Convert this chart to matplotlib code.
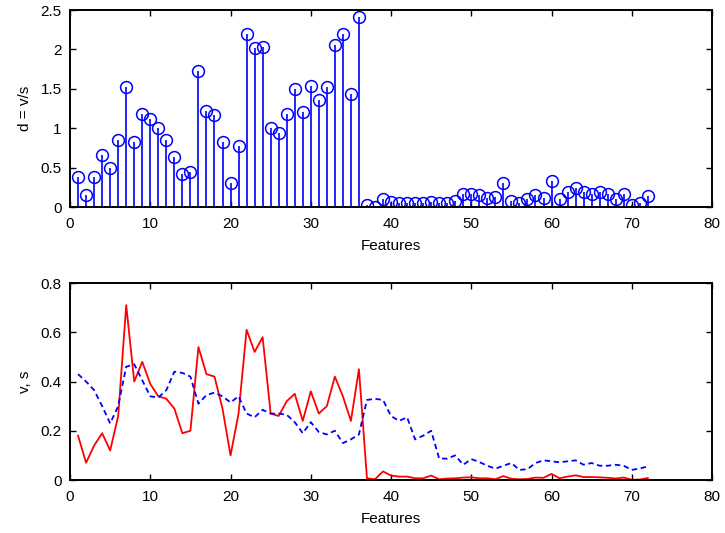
import numpy as np
import matplotlib.pyplot as plt

plt.rcParams['font.family'] = ['Liberation Sans', 'DejaVu Sans']

features = np.arange(1, 73)

# d = v/s
d = [0.38, 0.15, 0.38, 0.66, 0.50, 0.85, 1.52, 0.83, 1.18, 1.12,
     1.00, 0.85, 0.64, 0.42, 0.45, 1.73, 1.22, 1.17, 0.83, 0.30,
     0.78, 2.20, 2.02, 2.03, 1.00, 0.94, 1.18, 1.50, 1.20, 1.53,
     1.36, 1.52, 2.05, 2.19, 1.43, 2.41, 0.02, 0.00, 0.10, 0.06,
     0.05, 0.05, 0.05, 0.05, 0.07, 0.05, 0.05, 0.08, 0.16, 0.17,
     0.15, 0.12, 0.13, 0.30, 0.08, 0.05, 0.10, 0.15, 0.12, 0.33,
     0.10, 0.19, 0.24, 0.19, 0.17, 0.19, 0.16, 0.10, 0.17, 0.03,
     0.05, 0.14]

# v (red solid line)
v = [0.18, 0.07, 0.14, 0.19, 0.12, 0.26, 0.71, 0.40, 0.48, 0.39,
     0.34, 0.33, 0.29, 0.19, 0.20, 0.54, 0.43, 0.42, 0.29, 0.10,
     0.27, 0.61, 0.52, 0.58, 0.27, 0.26, 0.32, 0.35, 0.24, 0.36,
     0.27, 0.30, 0.42, 0.34, 0.24, 0.45, 0.007, 0.003, 0.035, 0.018,
     0.014, 0.014, 0.007, 0.007, 0.018, 0.003, 0.006, 0.007, 0.01, 0.011,
     0.007, 0.007, 0.003, 0.016, 0.005, 0.003, 0.004, 0.01, 0.009, 0.025,
     0.007, 0.014, 0.019, 0.012, 0.012, 0.011, 0.009, 0.006, 0.01, 0.001,
     0.002, 0.008]

# s (blue dashed line)
s = [0.43, 0.40, 0.365, 0.30, 0.23, 0.30, 0.46, 0.47, 0.405, 0.34,
     0.335, 0.365, 0.44, 0.435, 0.42, 0.31, 0.345, 0.355, 0.34, 0.315,
     0.34, 0.27, 0.255, 0.285, 0.27, 0.27, 0.265, 0.235, 0.19, 0.235,
     0.195, 0.185, 0.20, 0.15, 0.165, 0.185, 0.325, 0.33, 0.325, 0.26,
     0.24, 0.255, 0.165, 0.18, 0.20, 0.087, 0.087, 0.10, 0.062, 0.085,
     0.073, 0.058, 0.046, 0.058, 0.069, 0.041, 0.044, 0.069, 0.08, 0.076,
     0.072, 0.076, 0.08, 0.062, 0.069, 0.058, 0.058, 0.062, 0.058, 0.041,
     0.047, 0.055]

fig = plt.figure(figsize=(7.25, 5.33), dpi=100)
ax1 = fig.add_axes([0.0966, 0.6116, 0.8855, 0.3696])
ax2 = fig.add_axes([0.0966, 0.0994, 0.8855, 0.3696])

markerline, stemlines, baseline = ax1.stem(features, d, basefmt='none')
plt.setp(stemlines, color='blue', linewidth=1.2)
plt.setp(markerline, marker='o', markersize=8.5, markerfacecolor='none',
         markeredgecolor='blue', markeredgewidth=1.1)
ax1.set_xlim(0, 80)
ax1.set_ylim(0, 2.5)
ax1.set_yticks([0, 0.5, 1, 1.5, 2, 2.5])
ax1.set_yticklabels(['0', '0.5', '1', '1.5', '2', '2.5'])
ax1.set_xlabel('Features', labelpad=6)
ax1.set_ylabel('d = v/s', labelpad=6)

ax2.plot(features, v, color='red', linewidth=1.3)
ax2.plot(features, s, color='blue', linewidth=1.3, linestyle=(0, (3, 2)))
ax2.set_xlim(0, 80)
ax2.set_ylim(0, 0.8)
ax2.set_yticks([0, 0.2, 0.4, 0.6, 0.8])
ax2.set_yticklabels(['0', '0.2', '0.4', '0.6', '0.8'])
ax2.set_xlabel('Features', labelpad=6)
ax2.set_ylabel('v, s', labelpad=6)

for ax in (ax1, ax2):
    ax.tick_params(direction='in', top=True, right=True, labelsize=11, length=4.5, width=1.0)
    ax.tick_params(axis='x', pad=7)
    ax.tick_params(axis='y', pad=6)
    ax.xaxis.label.set_size(11)
    ax.yaxis.label.set_size(11)
    for sp in ax.spines.values():
        sp.set_linewidth(1.4)

fig.savefig('out.png', dpi=100)
